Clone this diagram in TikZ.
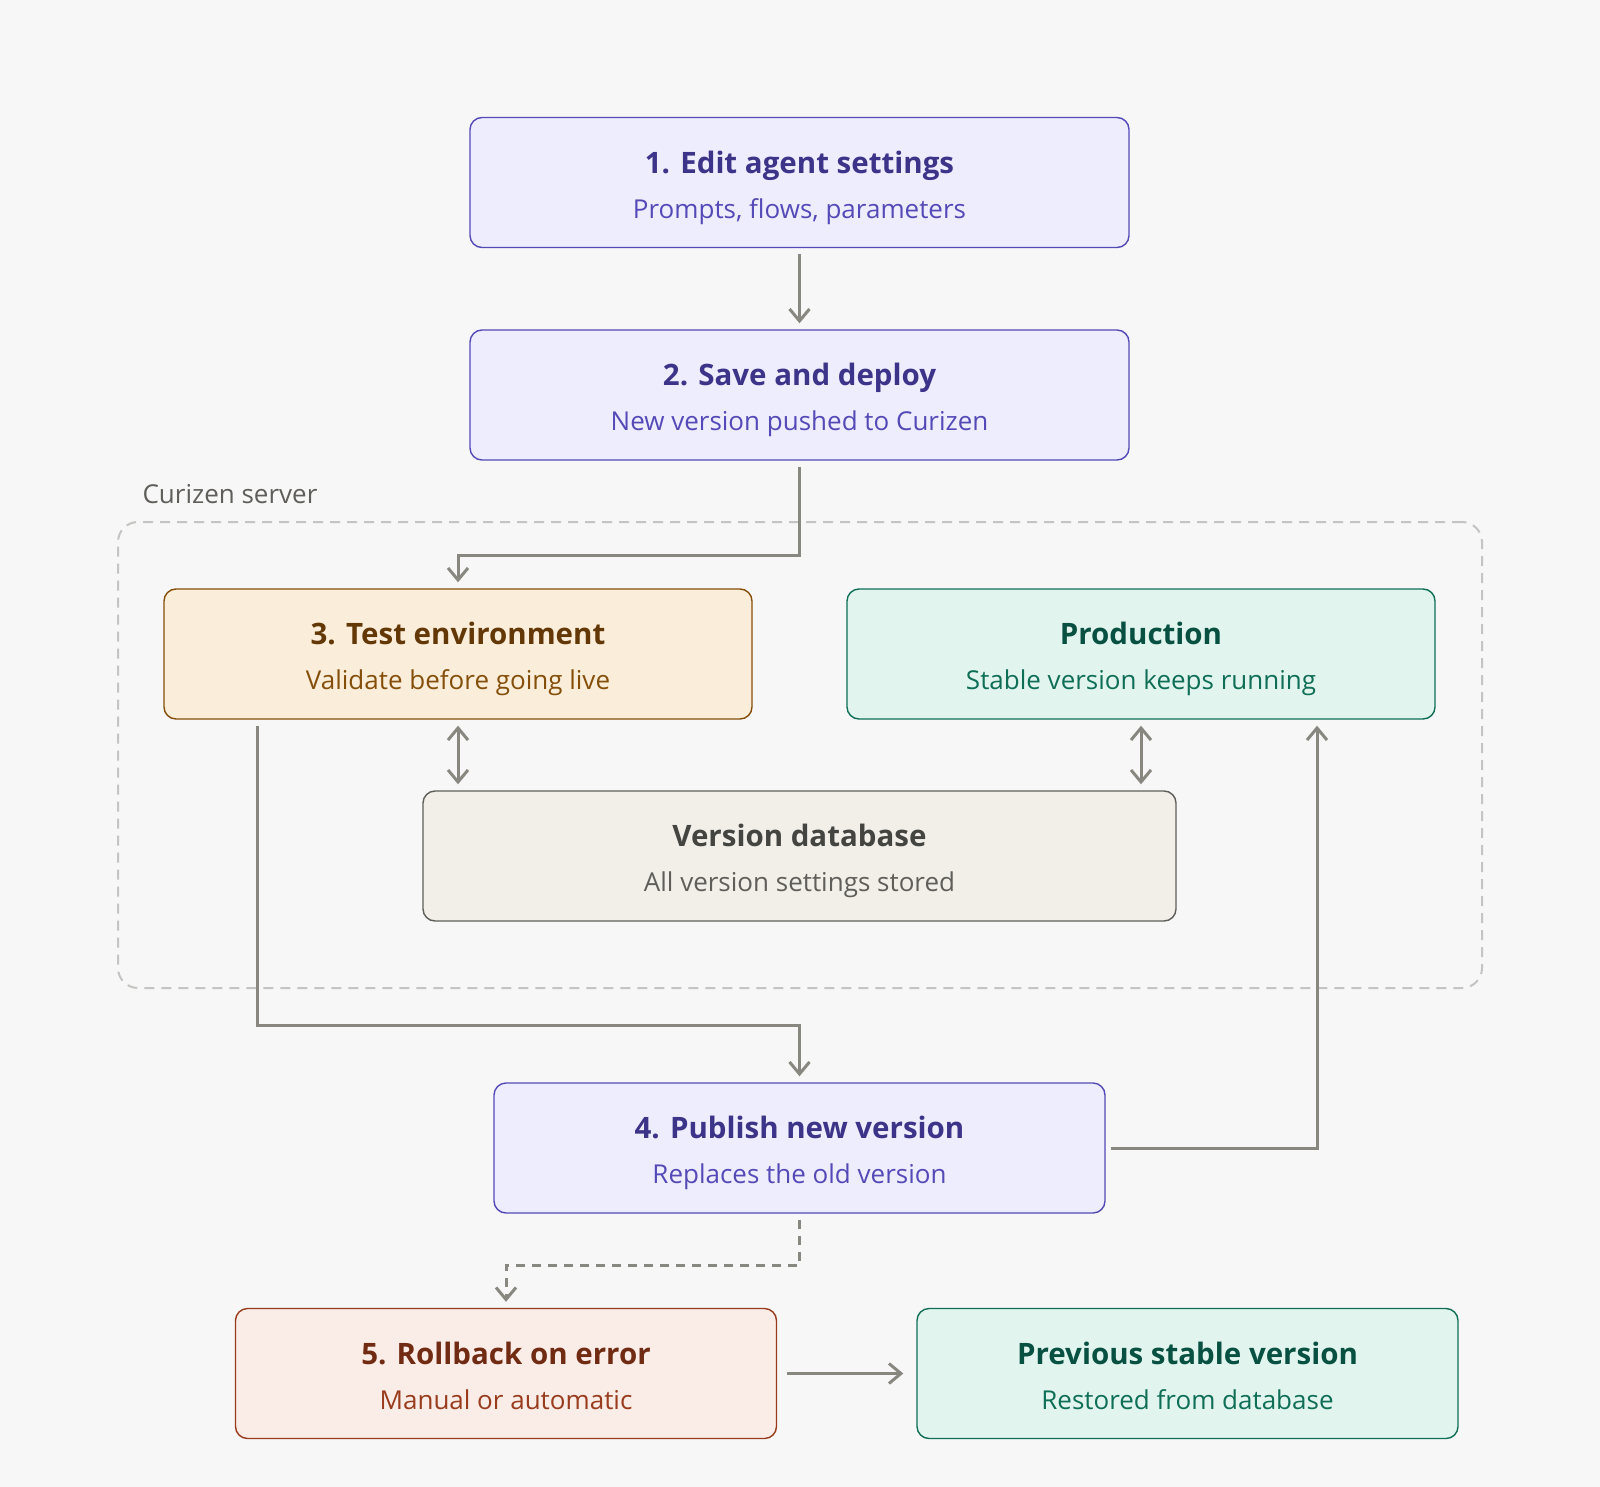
\documentclass[tikz,border=0pt]{standalone}
\usepackage{fontspec}
\setmainfont{Open Sans}
\usepackage{xcolor}
\usetikzlibrary{arrows.meta}

\definecolor{bgcol}{HTML}{F7F7F7}
\definecolor{linecol}{HTML}{888780}
\definecolor{servercol}{HTML}{C4C4C2}
\definecolor{purpF}{HTML}{EEEDFE}
\definecolor{purpD}{HTML}{534AB7}
\definecolor{purpT}{HTML}{3C3489}
\definecolor{ambF}{HTML}{FAEEDA}
\definecolor{ambD}{HTML}{854F0B}
\definecolor{ambT}{HTML}{633806}
\definecolor{tealF}{HTML}{E1F5EE}
\definecolor{tealD}{HTML}{0F6E56}
\definecolor{tealT}{HTML}{085041}
\definecolor{grayF}{HTML}{F1EFE8}
\definecolor{grayD}{HTML}{5F5E5A}
\definecolor{grayT}{HTML}{444441}
\definecolor{coralF}{HTML}{FAECE7}
\definecolor{coralD}{HTML}{993C1D}
\definecolor{coralT}{HTML}{712B13}

% title line and subtitle line of a box (struts keep the spacing fixed)
\newcommand{\steptext}[3]{{\color{#1}\bfseries\fontsize{29.5}{35}\selectfont\rule[-9pt]{0pt}{42pt}#2}\\[15pt]{\fontsize{26}{32}\selectfont\rule[-6pt]{0pt}{26pt}#3}}

\begin{document}
\begin{tikzpicture}[
            x = 1pt, y = -1pt, % pixel grid of the reference
            > = {Straight Barb[length=12pt,width=20pt,line width=3pt]}, % arrow head style
            shorten > = 6pt, % don't touch arrow head to node
            shorten < = 6pt,
            box/.style = {draw, rounded corners=12pt, line width=1.4pt, align=center,
                          minimum height=130pt, inner sep=0pt},
            purplebox/.style = {box, fill=purpF, draw=purpD, text=purpD},
            amberbox/.style = {box, fill=ambF, draw=ambD, text=ambD},
            tealbox/.style = {box, fill=tealF, draw=tealD, text=tealD},
            graybox/.style = {box, fill=grayF, draw=grayD, text=grayD},
            coralbox/.style = {box, fill=coralF, draw=coralD, text=coralD},
            flow/.style = {->, draw=linecol, line width=3pt},
            both/.style = {<->, draw=linecol, line width=3pt},
            maybe/.style = {flow, dash pattern=on 9pt off 7pt}
        ]
\fill[bgcol] (0,0) rectangle (1600,1487);

% server area
\node[draw=servercol, dash pattern=on 10pt off 7pt, line width=2pt, rounded corners=20pt,
      minimum width=1364pt, minimum height=466pt] (server) at (800,755) {};
\node[anchor=west, text=grayD, font=\fontsize{26}{32}\selectfont] (serverlabel) at (139,494) {Curizen server};

\node[purplebox, minimum width=659pt] (edit) at (799.5,182.5) {\steptext{purpT}{1. Edit agent settings}{Prompts, flows, parameters}};
\node[purplebox, minimum width=659pt] (save) at (799.5,395) {\steptext{purpT}{2. Save and deploy}{New version pushed to Curizen}};
\node[amberbox, minimum width=588pt] (test) at (458,654) {\steptext{ambT}{3. Test environment}{Validate before going live}};
\node[tealbox, minimum width=588pt] (prod) at (1141,654) {\steptext{tealT}{Production}{Stable version keeps running}};
\node[graybox, minimum width=753pt] (db) at (799.5,856) {\steptext{grayT}{Version database}{All version settings stored}};
\node[purplebox, minimum width=611pt] (publish) at (799.5,1148) {\steptext{purpT}{4. Publish new version}{Replaces the old version}};
\node[coralbox, minimum width=541pt] (rollback) at (506,1373.5) {\steptext{coralT}{5. Rollback on error}{Manual or automatic}};
\node[tealbox, minimum width=541pt] (prev) at (1187.5,1373.5) {\steptext{tealT}{Previous stable version}{Restored from database}};

\coordinate (testout) at ([xshift=94pt]test.south west);
\coordinate (prodin) at ([xshift=176pt]prod.south);

\path [flow] (edit) -- (save);
\path [flow] (save.south) -- (save.south |- 0,555) -| (test.north);
\path [both] (test.south) -- (test.south |- db.north);
\path [both] (prod.south) -- (prod.south |- db.north);
\path [flow] (testout) -- (testout |- 0,1025) -| (publish.north);
\path [flow, shorten < = 5pt] (publish.east) -| (prodin);
\path [maybe] (publish.south) -- (publish.south |- 0,1265) -| (rollback.north);
\path [flow, shorten < = 10pt, shorten > = 13pt] (rollback) -- (prev);
\end{tikzpicture}
\end{document}
